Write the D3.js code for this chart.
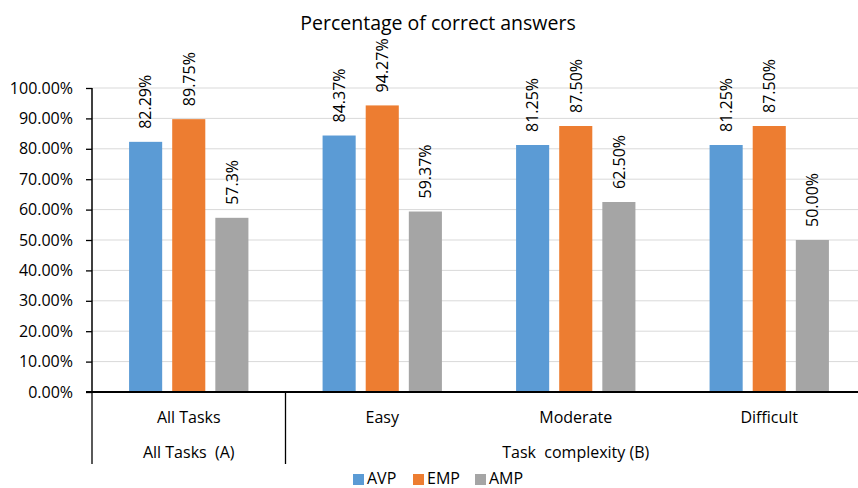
<!DOCTYPE html>
<html>
<head>
<meta charset="utf-8">
<script src="https://cdn.jsdelivr.net/npm/d3@7"></script>
<style>
  body { margin: 0; background: #fff; }
  svg { display: block; font-family: "Open Sans", sans-serif; }
  text { white-space: pre; }
</style>
</head>
<body>
<svg id="chart" width="858" height="488"></svg>
<script>
// chart data
const categories = ['All Tasks', 'Easy', 'Moderate', 'Difficult']
const groups = [
    {name: 'All Tasks  (A)', from: 0, to: 0},
    {name: 'Task  complexity (B)', from: 1, to: 3}
]
const seriesNames = ['AVP', 'EMP', 'AMP']
const avpValues = [82.29, 84.37, 81.25, 81.25]
const empValues = [89.75, 94.27, 87.50, 87.50]
const ampValues = [57.3, 59.37, 62.50, 50.00]
const avpLabels = ['82.29%', '84.37%', '81.25%', '81.25%']
const empLabels = ['89.75%', '94.27%', '87.50%', '87.50%']
const ampLabels = ['57.3%', '59.37%', '62.50%', '50.00%']
const yTicks = [0, 10, 20, 30, 40, 50, 60, 70, 80, 90, 100]
const colors = ['#5b9bd5', '#ed7d31', '#a5a5a5']

const series = [
    {name: seriesNames[0], values: avpValues, labels: avpLabels},
    {name: seriesNames[1], values: empValues, labels: empLabels},
    {name: seriesNames[2], values: ampValues, labels: ampLabels}
]

const svg = d3.select('#chart')
const plotLeft = 92, plotRight = 866, plotTop = 88, plotBottom = 392

// scales
const x0 = d3.scaleBand().domain(categories).range([plotLeft, plotRight])
const x1 = d3.scaleBand().domain(seriesNames).range([0, x0.bandwidth()])
    .paddingInner(0.2326).paddingOuter(0.86)
const y = d3.scaleLinear().domain([0, 100]).range([plotBottom, plotTop])
const color = d3.scaleOrdinal().domain(seriesNames).range(colors)

// title
svg.append('text')
    .attr('x', 438).attr('y', 30)
    .attr('text-anchor', 'middle')
    .style('font-size', '19.5px')
    .style('fill', '#000')
    .text('Percentage of correct answers')

// gridlines
svg.append('g').selectAll('line')
    .data(yTicks.filter(d => d > 0))
    .enter().append('line')
    .attr('x1', plotLeft).attr('x2', 858)
    .attr('y1', d => y(d)).attr('y2', d => y(d))
    .style('stroke', '#d9d9d9')
    .style('stroke-width', 1)

// y axis
const yAxis = d3.axisLeft(y)
    .tickValues(yTicks)
    .tickSize(6)
    .tickPadding(13)
    .tickFormat(d => d.toFixed(2) + '%')
const yg = svg.append('g')
    .attr('transform', `translate(${plotLeft},0)`)
    .call(yAxis)
yg.select('.domain').remove()
yg.selectAll('.tick line').style('stroke', '#000').style('stroke-width', 1.3)
yg.selectAll('.tick text')
    .style('font-family', '"Open Sans", sans-serif')
    .style('font-size', '16px')
    .style('fill', '#000')
svg.append('line')
    .attr('x1', plotLeft).attr('x2', plotLeft)
    .attr('y1', plotTop).attr('y2', plotBottom)
    .style('stroke', '#000').style('stroke-width', 1.5)

// bars
const cat = svg.append('g').selectAll('g')
    .data(categories)
    .enter().append('g')
    .attr('transform', d => `translate(${x0(d)},0)`)

cat.selectAll('rect')
    .data((d, i) => series.map(s => ({name: s.name, value: s.values[i], label: s.labels[i]})))
    .enter().append('rect')
    .attr('x', d => x1(d.name))
    .attr('width', x1.bandwidth())
    .attr('y', d => y(d.value))
    .attr('height', d => y(0) - y(d.value))
    .style('fill', d => color(d.name))

cat.selectAll('text')
    .data((d, i) => series.map(s => ({name: s.name, value: s.values[i], label: s.labels[i]})))
    .enter().append('text')
    .attr('transform', d => `translate(${x1(d.name) + x1.bandwidth() / 2},${y(d.value) - 13}) rotate(-90)`)
    .attr('dy', '0.36em')
    .style('font-size', '16px')
    .style('fill', '#000')
    .text(d => d.label)

// x axis
svg.append('line')
    .attr('x1', 86).attr('x2', 858)
    .attr('y1', plotBottom).attr('y2', plotBottom)
    .style('stroke', '#000').style('stroke-width', 2)

// category labels
svg.append('g').selectAll('text')
    .data(categories)
    .enter().append('text')
    .attr('x', d => x0(d) + x0.bandwidth() / 2)
    .attr('y', 423)
    .attr('text-anchor', 'middle')
    .style('font-size', '16px')
    .style('fill', '#000')
    .text(d => d)

// group labels and dividers
svg.append('g').selectAll('text')
    .data(groups)
    .enter().append('text')
    .attr('x', d => (x0(categories[d.from]) + x0(categories[d.to]) + x0.bandwidth()) / 2)
    .attr('y', 458)
    .attr('text-anchor', 'middle')
    .style('font-size', '16px')
    .style('fill', '#000')
    .text(d => d.name)

svg.append('g').selectAll('line')
    .data(groups)
    .enter().append('line')
    .attr('x1', d => x0(categories[d.from]))
    .attr('x2', d => x0(categories[d.from]))
    .attr('y1', plotBottom).attr('y2', 464)
    .style('stroke', '#000').style('stroke-width', 1.3)

// legend (nudged up so the text is not clipped by the bottom edge)
const legendX = [353, 413, 475]
const legend = svg.append('g').selectAll('g')
    .data(seriesNames)
    .enter().append('g')
    .attr('transform', (d, i) => `translate(${legendX[i]},474)`)
legend.append('rect')
    .attr('width', 11).attr('height', 11)
    .style('fill', d => color(d))
legend.append('text')
    .attr('x', 14).attr('y', 10)
    .style('font-size', '16px')
    .style('fill', '#000')
    .text(d => d)
</script>
</body>
</html>
